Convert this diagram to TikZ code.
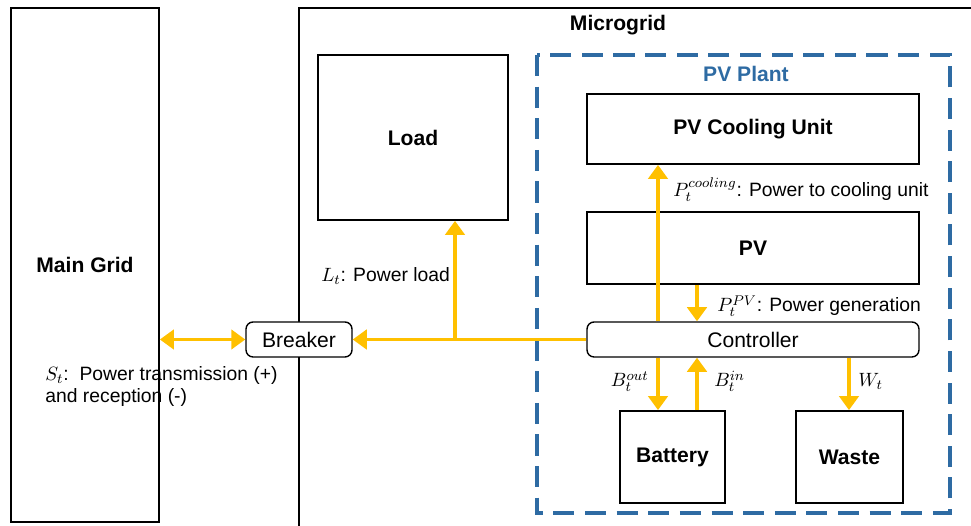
\documentclass[tikz,border=0pt]{standalone}
\usepackage{fontspec}
\setmainfont{Liberation Sans}
\usetikzlibrary{arrows.meta}
\definecolor{flowgold}{HTML}{FFC000}
\definecolor{plantblue}{HTML}{2E6BA3}
\begin{document}
\begin{tikzpicture}[x=0.02cm, y=-0.02cm,
  box/.style={draw, line width=1pt, inner sep=0pt, font=\fontsize{12}{14}\selectfont\bfseries},
  rbox/.style={draw, line width=0.8pt, rounded corners=4pt, inner sep=0pt, fill=white,
    minimum height=0.7cm, font=\fontsize{12}{14}\selectfont},
  flow/.style={flowgold, line width=2.2pt, -{Triangle[width=11pt,length=8pt]}},
  lbl/.style={font=\fontsize{11}{13}\selectfont, inner sep=0pt}]

\useasboundingbox (0,0) rectangle (971,526);

% ===== OUTER FRAMES =====
\draw[line width=1pt] (299,8) rectangle (995,545);
\node[font=\fontsize{12}{14}\selectfont\bfseries] (mglabel) at (618,25) {Microgrid};
\draw[plantblue, line width=2pt, dash pattern=on 12pt off 6pt] (537,55) rectangle (950,513);
\node[font=\fontsize{12}{14}\selectfont\bfseries, plantblue] (plantlabel) at (746,74) {PV Plant};

% ===== BOXES =====
\node[box, minimum width=2.96cm, minimum height=10.28cm] (maingrid) at (85,265) {Main Grid};
\node[box, minimum width=3.8cm, minimum height=3.3cm] (load) at (413,137.5) {Load};
\node[box, minimum width=6.64cm, minimum height=1.4cm] (cooling) at (753,129) {PV Cooling Unit};
\node[box, minimum width=6.64cm, minimum height=1.44cm] (pv) at (753,248) {PV};
\node[rbox, minimum width=6.64cm] (controller) at (753,339.5) {Controller};
\node[rbox, minimum width=2.12cm] (breaker) at (299,339.5) {Breaker};
\node[box, minimum width=2.1cm, minimum height=1.84cm] (battery) at (672.5,457) {Battery};
\node[box, minimum width=2.14cm, minimum height=1.84cm] (waste) at (849.5,457) {Waste};

% ===== FLOWS =====
\coordinate (jn) at (455,339.5);
\coordinate (colA) at (658,0);
\coordinate (colB) at (697,0);
\coordinate (colC) at (849,0);
\draw[flow, {Triangle[width=11pt,length=8pt]}-{Triangle[width=11pt,length=8pt]}]
  (maingrid.east |- breaker.west) -- (breaker.west);
\draw[flow] (controller.west) -- (breaker.east);
\draw[flow] (jn) -- (jn |- load.south);
\draw[flow] (colA |- controller.north) -- (colA |- cooling.south);
\draw[flow] (colB |- pv.south) -- (colB |- controller.north);
\draw[flow] (colA |- controller.south) -- (colA |- battery.north);
\draw[flow] (colB |- battery.north) -- (colB |- controller.south);
\draw[flow] (colC |- controller.south) -- (colC |- waste.north);

% ===== LABELS =====
\node[lbl, anchor=base west] (lcool) at (673,197) {$P_t^{cooling}$: Power to cooling unit};
\node[lbl, anchor=base west] (lgen) at (717,312) {$P_t^{PV}$: Power generation};
\node[lbl, anchor=base west] (lload) at (321,282) {$L_t$: Power load};
\node[lbl, anchor=base west, align=left] (ltrans) at (45,403)
  {$S_t$:\ \ Power transmission (+)\\and reception (-)};
\node[lbl, anchor=base east] (lbout) at (649,387) {$B_t^{out}$};
\node[lbl, anchor=base west] (lbin) at (714,387) {$B_t^{in}$};
\node[lbl, anchor=base west] (lwaste) at (858,387) {$W_t$};

\end{tikzpicture}
\end{document}
